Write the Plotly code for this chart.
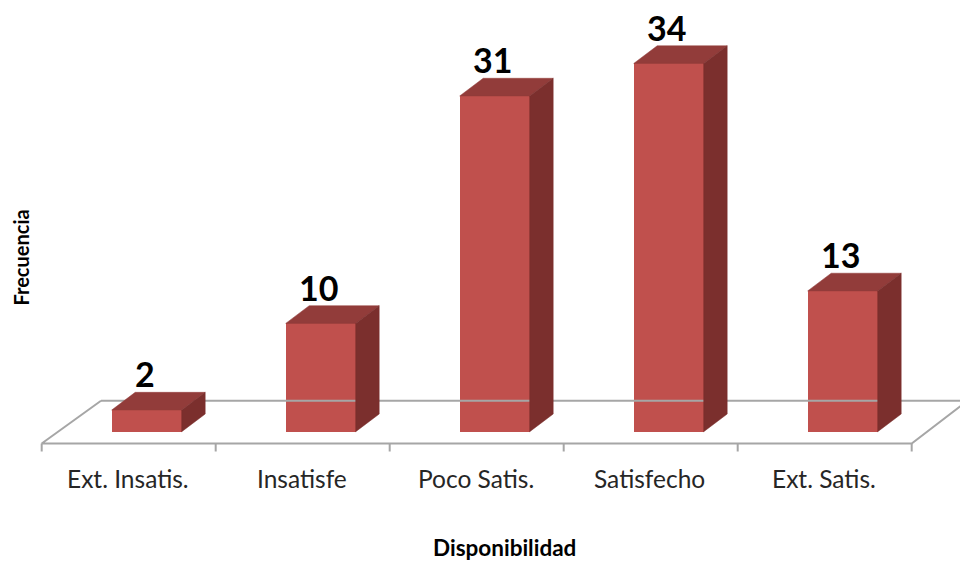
import plotly.graph_objects as go

# ---- data ----
categories = ["Ext. Insatis.", "Insatisfe", "Poco Satis.", "Satisfecho", "Ext. Satis."]
values = [2, 10, 31, 34, 13]
x_title = "Disponibilidad"
y_title = "Frecuencia"

# ---- geometry (in axis units) ----
PX_PER_X = 174.0          # pixels per category
PX_PER_Y = 10.83          # pixels per unit of frequency
X0_PX = 41.7 + 0.5 * PX_PER_X   # pixel of category 0 centre on the floor's front edge
Y0_PX = 431.7            # pixel of value 0 (bar base)
W, H = 960, 562

BAR_OFF = -17 / PX_PER_X        # bar front-face left edge relative to category
BAR_W = 70 / PX_PER_X           # bar front-face width
DX = 23.5 / PX_PER_X            # bar depth, x
DY = 17.7 / PX_PER_Y            # bar depth, y
FLOOR_FRONT = -(443.5 - Y0_PX) / PX_PER_Y
FLOOR_BACK = -(400.7 - Y0_PX) / PX_PER_Y
FLOOR_DX_L = (101 - 41.7) / PX_PER_X
FLOOR_DX_R = (967.6 - 911.7) / PX_PER_X
TICK_LEN = 8 / PX_PER_Y
LABEL_Y = -(478 - Y0_PX) / PX_PER_Y

xr = [-X0_PX / PX_PER_X, (W - X0_PX) / PX_PER_X]
yr = [-(H - Y0_PX) / PX_PER_Y, Y0_PX / PX_PER_Y]

FRONT = "#C0504D"
TOP = "#923C3A"
SIDE = "#7B2F2D"
GRID = "#A6A6A6"

n = len(categories)
xs = list(range(n))
fig = go.Figure()

# floor outline
left, right = -0.5, n - 0.5
fig.add_trace(go.Scatter(
    x=[left + FLOOR_DX_L, left, right, right + FLOOR_DX_R, None, left + FLOOR_DX_L, right + FLOOR_DX_R],
    y=[FLOOR_BACK, FLOOR_FRONT, FLOOR_FRONT, FLOOR_BACK, None, FLOOR_BACK, FLOOR_BACK],
    mode="lines", line=dict(color=GRID, width=2), hoverinfo="skip", showlegend=False))
# ticks
tx, ty = [], []
for k in range(n + 1):
    tx += [left + k, left + k, None]
    ty += [FLOOR_FRONT, FLOOR_FRONT - TICK_LEN, None]
fig.add_trace(go.Scatter(x=tx, y=ty, mode="lines", line=dict(color=GRID, width=2),
                         hoverinfo="skip", showlegend=False))

# bar front faces
fig.add_trace(go.Bar(x=xs, y=values, width=BAR_W, offset=BAR_OFF,
                     marker=dict(color=FRONT, line=dict(width=0)), showlegend=False))

# top and side faces
topx, topy, sidex, sidey = [], [], [], []
for i, v in zip(xs, values):
    x1 = i + BAR_OFF
    x2 = x1 + BAR_W
    topx += [x1, x2, x2 + DX, x1 + DX, x1, None]
    topy += [v, v, v + DY, v + DY, v, None]
    sidex += [x2, x2 + DX, x2 + DX, x2, x2, None]
    sidey += [0, DY, v + DY, v, 0, None]
fig.add_trace(go.Scatter(x=topx, y=topy, fill="toself", fillcolor=TOP, mode="lines",
                         line=dict(color=TOP, width=0.5), hoverinfo="skip", showlegend=False))
fig.add_trace(go.Scatter(x=sidex, y=sidey, fill="toself", fillcolor=SIDE, mode="lines",
                         line=dict(color=SIDE, width=0.5), hoverinfo="skip", showlegend=False))

# value labels
for i, v in zip(xs, values):
    fig.add_annotation(x=i + BAR_OFF + BAR_W / 2 - 2 / PX_PER_X, y=v + DY, text=str(v),
                       showarrow=False, yanchor="bottom", xanchor="center", yshift=-4,
                       font=dict(family="Lato", size=34, color="black", weight="bold"))
# category labels
for i, c in zip(xs, categories):
    fig.add_annotation(x=i - 1 / PX_PER_X, y=LABEL_Y, text=c, showarrow=False,
                       yanchor="middle", xanchor="center",
                       font=dict(family="Lato", size=24.5, color="#262626"))
# axis titles
fig.add_annotation(xref="paper", yref="paper", x=504 / W, y=1 - 547 / H, text=x_title,
                   showarrow=False, yanchor="middle", xanchor="center",
                   font=dict(family="Lato", size=22.5, color="black", weight="bold"))
fig.add_annotation(xref="paper", yref="paper", x=20 / W, y=1 - 257.5 / H, text=y_title,
                   textangle=-90, showarrow=False, yanchor="middle", xanchor="center",
                   font=dict(family="Lato", size=20, color="black", weight="bold"))

fig.update_layout(
    width=W, height=H, margin=dict(l=0, r=0, t=0, b=0),
    plot_bgcolor="white", paper_bgcolor="white",
    xaxis=dict(range=xr, visible=False, fixedrange=True),
    yaxis=dict(range=yr, visible=False, fixedrange=True),
    bargap=0,
)
fig.write_html("out.html", config={"displayModeBar": False},
               post_script="document.body.style.margin='0';document.body.style.overflow='hidden';")
